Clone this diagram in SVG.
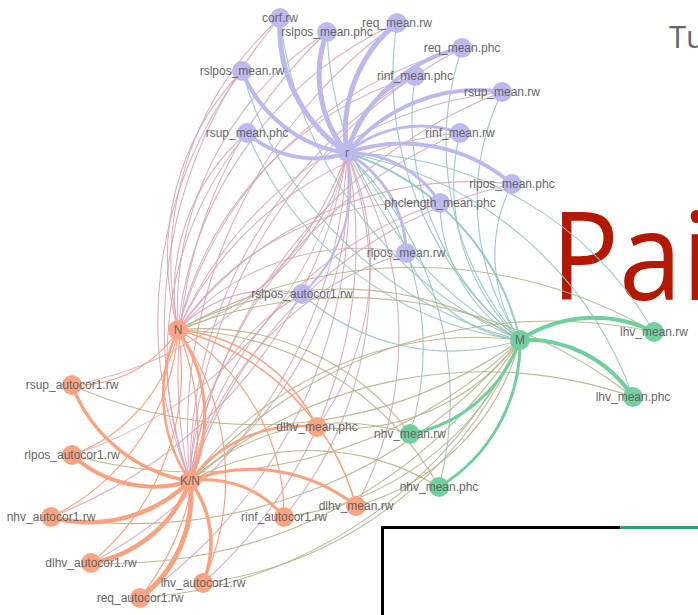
<svg xmlns="http://www.w3.org/2000/svg" width="698" height="615" viewBox="0 0 698 615">
<style>
.e{fill:none}
.pp{stroke:#bdb8ee}
.po{stroke:#d6a2b2;stroke-width:1.1;stroke-opacity:.85}
.pg{stroke:#8ec6c3;stroke-width:1.1;stroke-opacity:.9}
.oo{stroke:#f9a27f}
.og{stroke:#b4b48a;stroke-width:1.1;stroke-opacity:.9}
.gg{stroke:#70cf9d}
.np{fill:#bdb8ee}
.no{fill:#f9a482}
.ng{fill:#72cf9e}
.lb{font-family:"Liberation Sans",Arial,sans-serif;font-size:12px;fill:#666;text-anchor:middle}
.big{font-family:"Open Sans","Noto Sans",sans-serif}
</style>
<text class="big" x="550" y="300" font-size="123" fill="#b31800" transform="matrix(0.92,0,0,1,45,0)">Pai</text>
<text class="big" x="669" y="48" font-size="31" fill="#666">Tu</text>
<g id="connectors">
<path class="e po" d="M347 153A244.7 244.7 0 0 1 178 330"/>
<path class="e po" d="M347 153A363.6 363.6 0 0 1 190 481"/>
<path class="e po" d="M347 153A359.8 359.8 0 0 1 72 385"/>
<path class="e po" d="M347 153A408.4 408.4 0 0 1 72 455"/>
<path class="e po" d="M347 153A469.2 469.2 0 0 1 51 517"/>
<path class="e po" d="M347 153A483.4 483.4 0 0 1 91 563"/>
<path class="e po" d="M347 153A490.8 490.8 0 0 1 140 598"/>
<path class="e po" d="M347 153A453.5 453.5 0 0 1 203 583"/>
<path class="e po" d="M347 153A369.4 369.4 0 0 1 284 517"/>
<path class="e po" d="M347 153A353.1 353.1 0 0 1 356 506"/>
<path class="e po" d="M347 153A275.6 275.6 0 0 1 317 427"/>
<path class="e po" d="M178 330A328.2 328.2 0 0 1 280 18"/>
<path class="e po" d="M178 330A333.2 333.2 0 0 1 327 32"/>
<path class="e po" d="M178 330A377.1 377.1 0 0 1 397 23"/>
<path class="e po" d="M178 330A400.2 400.2 0 0 1 462 48"/>
<path class="e po" d="M178 330A347.4 347.4 0 0 1 415 76"/>
<path class="e po" d="M178 330A402 402 0 0 1 502 92"/>
<path class="e po" d="M178 330A344 344 0 0 1 460 133"/>
<path class="e po" d="M178 330A266.8 266.8 0 0 1 242 71"/>
<path class="e po" d="M178 330A208.7 208.7 0 0 1 247 133"/>
<path class="e po" d="M178 330A364.5 364.5 0 0 1 512 184"/>
<path class="e po" d="M178 330A291.2 291.2 0 0 1 440 203"/>
<path class="e po" d="M178 330A240.7 240.7 0 0 1 406 253"/>
<path class="e po" d="M178 330A129.1 129.1 0 0 1 302 294"/>
<path class="e po" d="M190 481A471.7 471.7 0 0 1 280 18"/>
<path class="e po" d="M190 481A469.4 469.4 0 0 1 327 32"/>
<path class="e po" d="M190 481A502.6 502.6 0 0 1 397 23"/>
<path class="e po" d="M190 481A511.3 511.3 0 0 1 462 48"/>
<path class="e po" d="M190 481A463.3 463.3 0 0 1 415 76"/>
<path class="e po" d="M190 481A498.7 498.7 0 0 1 502 92"/>
<path class="e po" d="M190 481A440.5 440.5 0 0 1 460 133"/>
<path class="e po" d="M190 481A413.3 413.3 0 0 1 242 71"/>
<path class="e po" d="M190 481A352.6 352.6 0 0 1 247 133"/>
<path class="e po" d="M190 481A438.1 438.1 0 0 1 512 184"/>
<path class="e po" d="M190 481A373.9 373.9 0 0 1 440 203"/>
<path class="e po" d="M190 481A314.1 314.1 0 0 1 406 253"/>
<path class="e po" d="M190 481A218 218 0 0 1 302 294"/>
<path class="e pg" style="stroke-width:2" d="M347 153A254.8 254.8 0 0 1 520 340"/>
<path class="e pg" d="M347 153A355.4 355.4 0 0 1 654 332"/>
<path class="e pg" d="M347 153A375.9 375.9 0 0 1 633 397"/>
<path class="e pg" d="M347 153A288 288 0 0 1 410 434"/>
<path class="e pg" d="M347 153A346.4 346.4 0 0 1 439 487"/>
<path class="e pg" d="M520 340A401.6 401.6 0 0 1 280 18"/>
<path class="e pg" d="M520 340A363.5 363.5 0 0 1 327 32"/>
<path class="e pg" d="M520 340A340 340 0 0 1 397 23"/>
<path class="e pg" d="M520 340A297.7 297.7 0 0 1 462 48"/>
<path class="e pg" d="M520 340A284.1 284.1 0 0 1 415 76"/>
<path class="e pg" d="M520 340A248.7 248.7 0 0 1 502 92"/>
<path class="e pg" d="M520 340A215.5 215.5 0 0 1 460 133"/>
<path class="e pg" d="M520 340A386.8 386.8 0 0 1 242 71"/>
<path class="e pg" d="M520 340A342.6 342.6 0 0 1 247 133"/>
<path class="e pg" d="M520 340A156.2 156.2 0 0 1 512 184"/>
<path class="e pg" d="M520 340A158.6 158.6 0 0 1 440 203"/>
<path class="e pg" d="M520 340A143.4 143.4 0 0 1 406 253"/>
<path class="e pg" d="M520 340A222.8 222.8 0 0 1 302 294"/>
<path class="e og" d="M178 330A342.1 342.1 0 0 1 520 340"/>
<path class="e og" d="M178 330A476 476 0 0 1 654 332"/>
<path class="e og" d="M178 330A459.9 459.9 0 0 1 633 397"/>
<path class="e og" d="M178 330A254.2 254.2 0 0 1 410 434"/>
<path class="e og" d="M178 330A304.6 304.6 0 0 1 439 487"/>
<path class="e og" d="M190 481A358.9 358.9 0 0 1 520 340"/>
<path class="e og" d="M190 481A487.3 487.3 0 0 1 654 332"/>
<path class="e og" d="M190 481A450.9 450.9 0 0 1 633 397"/>
<path class="e og" d="M190 481A225 225 0 0 1 410 434"/>
<path class="e og" d="M190 481A249.1 249.1 0 0 1 439 487"/>
<path class="e og" d="M520 340A450.3 450.3 0 0 1 72 385"/>
<path class="e og" d="M520 340A462.5 462.5 0 0 1 72 455"/>
<path class="e og" d="M520 340A501.3 501.3 0 0 1 51 517"/>
<path class="e og" d="M520 340A483.5 483.5 0 0 1 91 563"/>
<path class="e og" d="M520 340A459.3 459.3 0 0 1 140 598"/>
<path class="e og" d="M520 340A399.4 399.4 0 0 1 203 583"/>
<path class="e og" d="M520 340A295 295 0 0 1 284 517"/>
<path class="e og" d="M520 340A233.3 233.3 0 0 1 356 506"/>
<path class="e og" d="M520 340A220.9 220.9 0 0 1 317 427"/>
<path class="e oo" style="stroke-width:3" d="M178 330A151.5 151.5 0 0 1 190 481"/>
<path class="e oo" style="stroke-width:2.5" d="M190 481A151.5 151.5 0 0 1 178 330"/>
<path class="e oo" style="stroke-width:1.2" d="M178 330A119.4 119.4 0 0 1 72 385"/>
<path class="e oo" style="stroke-width:1.2" d="M178 330A163.9 163.9 0 0 1 72 455"/>
<path class="e oo" style="stroke-width:1.2" d="M178 330A226 226 0 0 1 51 517"/>
<path class="e oo" style="stroke-width:1.2" d="M178 330A248.7 248.7 0 0 1 91 563"/>
<path class="e oo" style="stroke-width:1.2" d="M178 330A270.7 270.7 0 0 1 140 598"/>
<path class="e oo" style="stroke-width:1.2" d="M178 330A254.2 254.2 0 0 1 203 583"/>
<path class="e oo" style="stroke-width:1.2" d="M178 330A215 215 0 0 1 284 517"/>
<path class="e oo" style="stroke-width:1.5" d="M178 330A250.3 250.3 0 0 1 356 506"/>
<path class="e oo" style="stroke-width:1.5" d="M178 330A169.5 169.5 0 0 1 317 427"/>
<path class="e oo" style="stroke-width:3.5" d="M190 481A152.1 152.1 0 0 1 72 385"/>
<path class="e oo" style="stroke-width:4" d="M190 481A120.8 120.8 0 0 1 72 455"/>
<path class="e oo" style="stroke-width:4.5" d="M190 481A143.6 143.6 0 0 1 51 517"/>
<path class="e oo" style="stroke-width:4.5" d="M190 481A128.6 128.6 0 0 1 91 563"/>
<path class="e oo" style="stroke-width:5" d="M190 481A127.2 127.2 0 0 1 140 598"/>
<path class="e oo" style="stroke-width:3.5" d="M190 481A102.8 102.8 0 0 1 203 583"/>
<path class="e oo" style="stroke-width:3" d="M190 481A100.7 100.7 0 0 1 284 517"/>
<path class="e oo" style="stroke-width:3" d="M190 481A167.9 167.9 0 0 1 356 506"/>
<path class="e oo" style="stroke-width:2.5" d="M190 481A138 138 0 0 1 317 427"/>
<path class="e pp" style="stroke-width:5" d="M347 153A150.7 150.7 0 0 1 280 18"/>
<path class="e pp" style="stroke-width:5" d="M347 153A122.6 122.6 0 0 1 327 32"/>
<path class="e pp" style="stroke-width:5" d="M347 153A139.3 139.3 0 0 1 397 23"/>
<path class="e pp" style="stroke-width:4" d="M347 153A155.7 155.7 0 0 1 462 48"/>
<path class="e pp" style="stroke-width:3" d="M347 153A102.7 102.7 0 0 1 415 76"/>
<path class="e pp" style="stroke-width:4" d="M347 153A166.6 166.6 0 0 1 502 92"/>
<path class="e pp" style="stroke-width:3" d="M347 153A114.8 114.8 0 0 1 460 133"/>
<path class="e pp" style="stroke-width:4" d="M347 153A133.2 133.2 0 0 1 242 71"/>
<path class="e pp" style="stroke-width:4" d="M347 153A102 102 0 0 1 247 133"/>
<path class="e pp" style="stroke-width:4" d="M347 153A167.9 167.9 0 0 1 512 184"/>
<path class="e pp" style="stroke-width:3" d="M347 153A105.6 105.6 0 0 1 440 203"/>
<path class="e pp" style="stroke-width:3" d="M347 153A116.1 116.1 0 0 1 406 253"/>
<path class="e pp" style="stroke-width:2" d="M347 153A148 148 0 0 1 302 294"/>
<path class="e gg" style="stroke-width:4" d="M520 340A134.2 134.2 0 0 1 654 332"/>
<path class="e gg" style="stroke-width:4" d="M520 340A126.6 126.6 0 0 1 633 397"/>
<path class="e gg" style="stroke-width:3" d="M520 340A144.7 144.7 0 0 1 410 434"/>
<path class="e gg" style="stroke-width:3" d="M520 340A167.8 167.8 0 0 1 439 487"/>
</g>
<g id="n-corf-rw"><circle class="np" cx="280" cy="18" r="10"/><text class="lb" x="280" y="22">corf.rw</text></g>
<g id="n-req-mean-rw"><circle class="np" cx="397" cy="23" r="10"/><text class="lb" x="397" y="27">req_mean.rw</text></g>
<g id="n-rslpos-mean-phc"><circle class="np" cx="327" cy="32" r="10"/><text class="lb" x="327" y="36">rslpos_mean.phc</text></g>
<g id="n-req-mean-phc"><circle class="np" cx="462" cy="48" r="10"/><text class="lb" x="462" y="52">req_mean.phc</text></g>
<g id="n-rslpos-mean-rw"><circle class="np" cx="242" cy="71" r="10"/><text class="lb" x="242" y="75">rslpos_mean.rw</text></g>
<g id="n-rinf-mean-phc"><circle class="np" cx="415" cy="76" r="10"/><text class="lb" x="415" y="80">rinf_mean.phc</text></g>
<g id="n-rsup-mean-rw"><circle class="np" cx="502" cy="92" r="10"/><text class="lb" x="502" y="96">rsup_mean.rw</text></g>
<g id="n-rinf-mean-rw"><circle class="np" cx="460" cy="133" r="10"/><text class="lb" x="460" y="137">rinf_mean.rw</text></g>
<g id="n-rsup-mean-phc"><circle class="np" cx="247" cy="133" r="10"/><text class="lb" x="247" y="137">rsup_mean.phc</text></g>
<g id="n-r"><circle class="np" cx="347" cy="153" r="9"/><text class="lb" x="347" y="157">r</text></g>
<g id="n-rlpos-mean-phc"><circle class="np" cx="512" cy="184" r="10"/><text class="lb" x="512" y="188">rlpos_mean.phc</text></g>
<g id="n-phclength-mean-phc"><circle class="np" cx="440" cy="203" r="10"/><text class="lb" x="440" y="207">phclength_mean.phc</text></g>
<g id="n-rlpos-mean-rw"><circle class="np" cx="406" cy="253" r="10"/><text class="lb" x="406" y="257">rlpos_mean.rw</text></g>
<g id="n-rslpos-autocor1-rw"><circle class="np" cx="302" cy="294" r="10"/><text class="lb" x="302" y="298">rslpos_autocor1.rw</text></g>
<g id="n-N"><circle class="no" cx="178" cy="330" r="10"/><text class="lb" x="178" y="334">N</text></g>
<g id="n-rsup-autocor1-rw"><circle class="no" cx="72" cy="385" r="10"/><text class="lb" x="72" y="389">rsup_autocor1.rw</text></g>
<g id="n-dlhv-mean-phc"><circle class="no" cx="317" cy="427" r="10"/><text class="lb" x="317" y="431">dlhv_mean.phc</text></g>
<g id="n-rlpos-autocor1-rw"><circle class="no" cx="72" cy="455" r="10"/><text class="lb" x="72" y="459">rlpos_autocor1.rw</text></g>
<g id="n-KN"><circle class="no" cx="190" cy="481" r="10"/><text class="lb" x="190" y="485">K/N</text></g>
<g id="n-dlhv-mean-rw"><circle class="no" cx="356" cy="506" r="10"/><text class="lb" x="356" y="510">dlhv_mean.rw</text></g>
<g id="n-rinf-autocor1-rw"><circle class="no" cx="284" cy="517" r="10"/><text class="lb" x="284" y="521">rinf_autocor1.rw</text></g>
<g id="n-nhv-autocor1-rw"><circle class="no" cx="51" cy="517" r="10"/><text class="lb" x="51" y="521">nhv_autocor1.rw</text></g>
<g id="n-dlhv-autocor1-rw"><circle class="no" cx="91" cy="563" r="10"/><text class="lb" x="91" y="567">dlhv_autocor1.rw</text></g>
<g id="n-lhv-autocor1-rw"><circle class="no" cx="203" cy="583" r="10"/><text class="lb" x="203" y="587">lhv_autocor1.rw</text></g>
<g id="n-req-autocor1-rw"><circle class="no" cx="140" cy="598" r="10"/><text class="lb" x="140" y="602">req_autocor1.rw</text></g>
<g id="n-M"><circle class="ng" cx="520" cy="340" r="10"/><text class="lb" x="520" y="344">M</text></g>
<g id="n-lhv-mean-rw"><circle class="ng" cx="654" cy="332" r="10"/><text class="lb" x="654" y="336">lhv_mean.rw</text></g>
<g id="n-lhv-mean-phc"><circle class="ng" cx="633" cy="397" r="10"/><text class="lb" x="633" y="401">lhv_mean.phc</text></g>
<g id="n-nhv-mean-rw"><circle class="ng" cx="410" cy="434" r="10"/><text class="lb" x="410" y="438">nhv_mean.rw</text></g>
<g id="n-nhv-mean-phc"><circle class="ng" cx="439" cy="487" r="10"/><text class="lb" x="439" y="491">nhv_mean.phc</text></g>
<rect x="382.5" y="527.5" width="330" height="100" fill="#fff" stroke="#000" stroke-width="3"/>
<line x1="620" y1="527.5" x2="698" y2="527.5" stroke="#2a9f79" stroke-width="3"/>
</svg>
